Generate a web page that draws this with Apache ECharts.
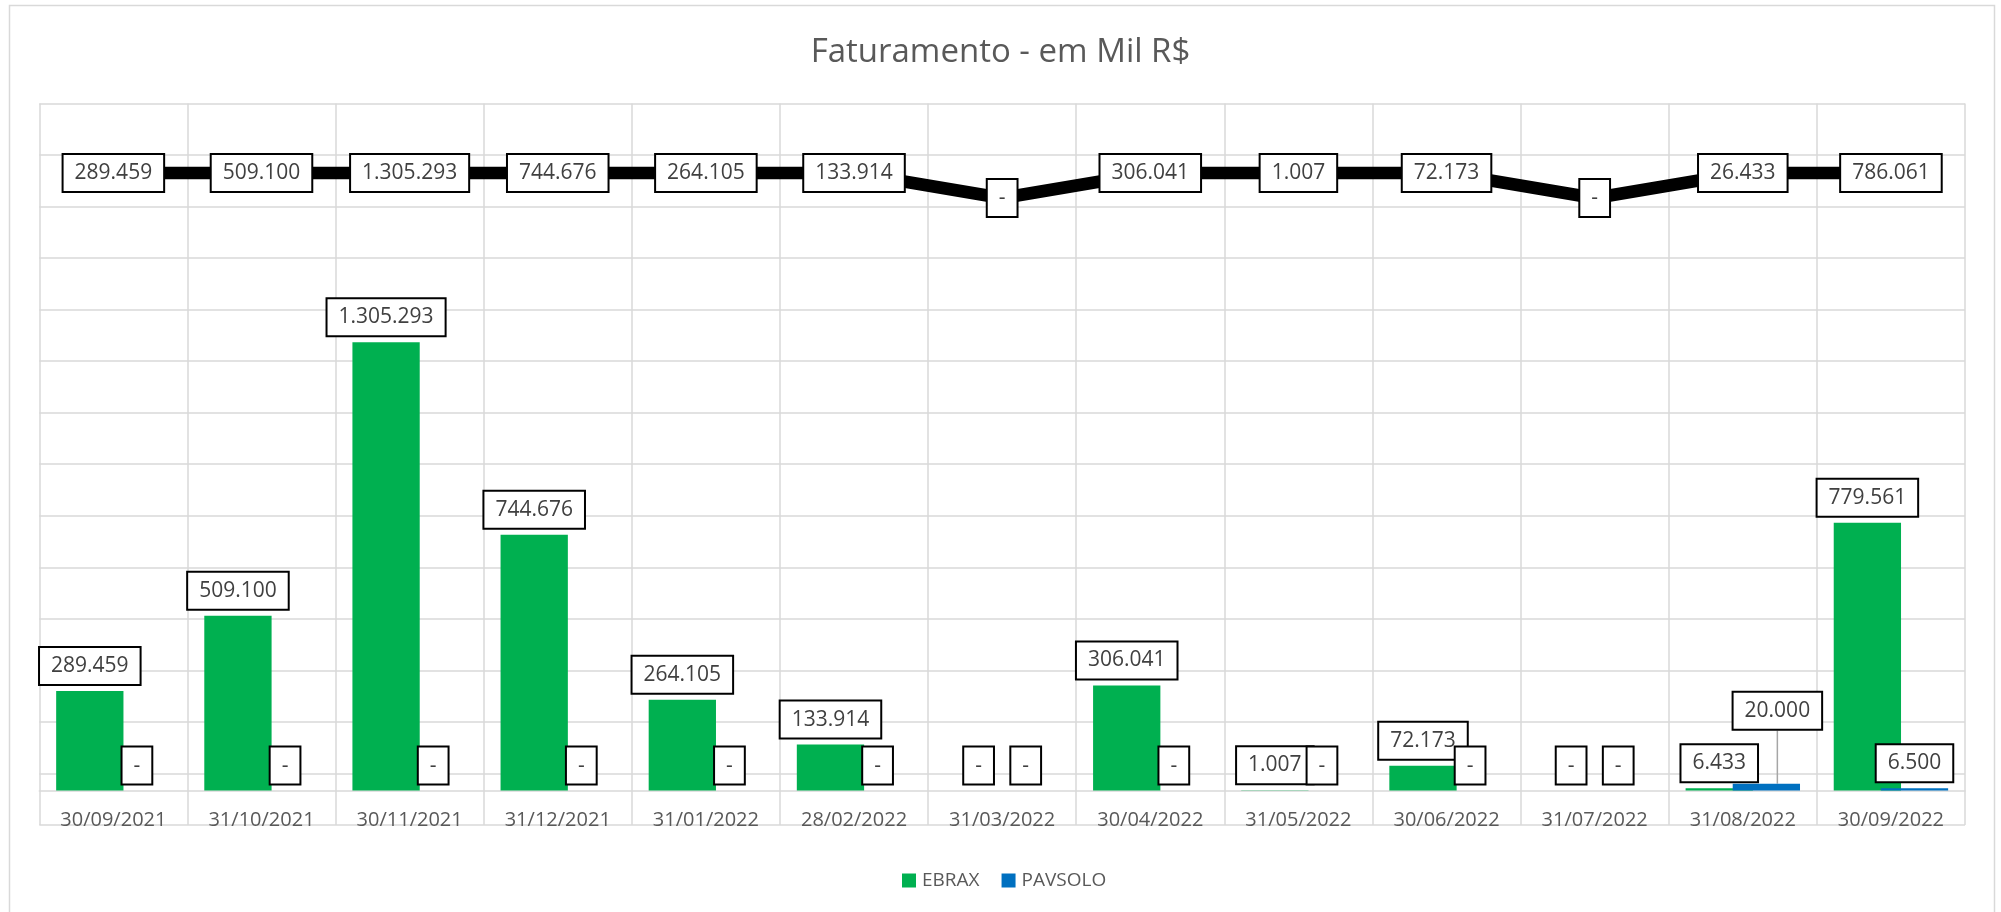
<!DOCTYPE html>
<html>
<head>
<meta charset="utf-8">
<script src="https://cdn.jsdelivr.net/npm/echarts@6/dist/echarts.min.js"></script>
<style>
html,body{margin:0;padding:0;background:#fff;}
#chart{width:2001px;height:912px;}
</style>
</head>
<body>
<div id="chart"></div>
<script>
// ---- data ----
const categories = ['30/09/2021','31/10/2021','30/11/2021','31/12/2021','31/01/2022','28/02/2022','31/03/2022','30/04/2022','31/05/2022','30/06/2022','31/07/2022','31/08/2022','30/09/2022'];
const ebrax   = [289459, 509100, 1305293, 744676, 264105, 133914, 0, 306041, 1007, 72173, 0, 6433, 779561];
const pavsolo = [0, 0, 0, 0, 0, 0, 0, 0, 0, 0, 0, 20000, 6500];
const total   = [289459, 509100, 1305293, 744676, 264105, 133914, 0, 306041, 1007, 72173, 0, 26433, 786061];
const seriesNames = ['EBRAX', 'PAVSOLO'];
// secondary axis of the total line is capped (values above the cap drawn at the cap, as in the source)
const LINE_CAP = 1000;

function fmt(v){
  if (!v) return '-';
  return String(v).replace(/\B(?=(\d{3})+(?!\d))/g, '.');
}

const boxLabel = {
  fontFamily: 'Open Sans',
  fontSize: 21,
  color: '#404040',
  backgroundColor: '#ffffff',
  borderColor: '#000000',
  borderWidth: 2,
  padding: [6, 11, 6, 11],
  lineHeight: 24
};

const chart = echarts.init(document.getElementById('chart'), null, {renderer: 'canvas'});

const pavData = pavsolo.map((v, i) => {
  if (i === 11) {
    return { value: v, labelLine: { show: true, lineStyle: { color: '#a6a6a6', width: 1.5 } } };
  }
  return v;
});

chart.setOption({
  backgroundColor: '#ffffff',
  animation: false,
  title: {
    text: 'Faturamento - em Mil R$',
    left: 'center',
    top: 31,
    textStyle: { fontFamily: 'Open Sans', fontSize: 33, fontWeight: 'normal', color: '#595959' }
  },
  legend: {
    data: seriesNames,
    left: 897,
    top: 866,
    icon: 'rect',
    itemWidth: 14,
    itemHeight: 14,
    itemGap: 22,
    textStyle: { fontFamily: 'Open Sans', fontSize: 19, color: '#595959', padding: [0, 0, 0, 1] }
  },
  graphic: [{
    type: 'rect',
    shape: { x: 9.5, y: 5.5, width: 1985, height: 910 },
    style: { fill: 'none', stroke: '#d9d9d9', lineWidth: 1.5 },
    silent: true,
    z: -10
  }],
  grid: { left: 39.3, right: 36, top: 103.5, bottom: 87.1, containLabel: false },
  xAxis: {
    type: 'category',
    data: categories,
    axisLine: { show: true, onZero: true, lineStyle: { color: '#d9d9d9', width: 1.5 } },
    axisTick: { show: false },
    splitLine: { show: true, lineStyle: { color: '#d9d9d9', width: 1.5 } },
    axisLabel: { fontFamily: 'Open Sans', fontSize: 20, color: '#595959', margin: -15, interval: 0 }
  },
  yAxis: [{
    type: 'value',
    min: -100000,
    max: 2000000,
    interval: 150000,
    axisLabel: { show: false },
    axisLine: { show: false },
    axisTick: { show: false },
    splitLine: { show: true, lineStyle: { color: '#d9d9d9', width: 1.5 } }
  }, {
    type: 'value',
    min: -25076,
    max: 3780,
    show: false,
    splitLine: { show: false }
  }],
  series: [{
    name: seriesNames[0],
    type: 'bar',
    data: ebrax,
    barWidth: 67.3,
    barGap: '-30%',
    itemStyle: { color: '#00b050' },
    label: Object.assign({ show: true, position: 'top', distance: 7, formatter: p => fmt(p.value) }, boxLabel),
    z: 2
  }, {
    name: seriesNames[1],
    type: 'bar',
    data: pavData,
    barWidth: 67.3,
    barGap: '-30%',
    itemStyle: { color: '#0070c0' },
    label: Object.assign({ show: true, position: 'top', distance: 7, formatter: p => fmt(pavsolo[p.dataIndex]) }, boxLabel),
    labelLayout: function (params) {
      if (params.dataIndex === 11) return { dx: 11, dy: -48 };
      return {};
    },
    z: 3
  }, {
    name: 'Total',
    type: 'line',
    yAxisIndex: 1,
    data: total.map(v => Math.min(v, LINE_CAP)),
    symbol: 'circle',
    symbolSize: 1,
    showSymbol: true,
    itemStyle: { color: '#000000' },
    lineStyle: { color: '#000000', width: 12.6, join: 'miter' },
    label: Object.assign({ show: true, position: 'inside', formatter: p => fmt(total[p.dataIndex]) }, boxLabel),
    z: 5
  }]
});
</script>
</body>
</html>
